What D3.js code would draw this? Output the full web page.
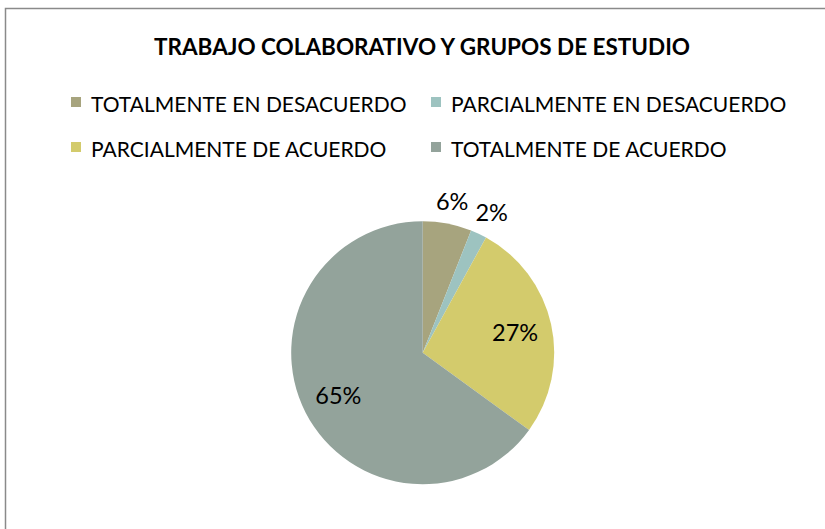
<!DOCTYPE html>
<html>
<head>
<meta charset="utf-8">
<script src="https://cdn.jsdelivr.net/npm/d3@7"></script>
<style>
  body { margin: 0; background: #fff; }
  svg { display: block; }
</style>
</head>
<body>
<div id="chart"></div>
<script>
// datos
var categorias = ["TOTALMENTE EN DESACUERDO", "PARCIALMENTE EN DESACUERDO", "PARCIALMENTE DE ACUERDO", "TOTALMENTE DE ACUERDO"];
var valores = [6, 2, 27, 65];
var colores = ["#a7a47e", "#9dc3c0", "#d3cb6c", "#93a39b"];
var titulo = "TRABAJO COLABORATIVO Y GRUPOS DE ESTUDIO";

var width = 825;
var height = 529;
var fuente = "Lato, 'Open Sans', sans-serif";

var svg = d3.select("#chart")
    .append("svg")
    .attr("width", width)
    .attr("height", height);

// marco del grafico
svg.append("rect")
    .attr("x", 5.5)
    .attr("y", 8.5)
    .attr("width", width + 20)
    .attr("height", height + 20)
    .attr("fill", "#fff")
    .attr("stroke", "#8a8a8a")
    .attr("stroke-width", 1.5);

svg.append("text")
    .attr("x", 422)
    .attr("y", 55)
    .attr("text-anchor", "middle")
    .attr("font-family", fuente)
    .attr("font-weight", "bold")
    .attr("font-size", 22.5)
    .attr("fill", "#000")
    .text(titulo);

// leyenda en dos columnas
var colx = d3.scalePoint().domain([0, 1]).range([71, 431]);
var filay = d3.scalePoint().domain([0, 1]).range([104, 149]);

var leyenda = svg.selectAll(".leyenda")
    .data(categorias)
    .enter()
    .append("g")
    .attr("class", "leyenda")
    .attr("transform", (d, i) => "translate(" + colx(i % 2) + "," + filay(Math.floor(i / 2)) + ")");

leyenda.append("rect")
    .attr("x", 0)
    .attr("y", -7)
    .attr("width", 10)
    .attr("height", 10)
    .attr("fill", (d, i) => colores[i]);

leyenda.append("text")
    .attr("x", 20)
    .attr("y", 7.5)
    .attr("font-family", fuente)
    .attr("font-size", 21)
    .attr("fill", "#000")
    .text(d => d);

// tarta
var cx = 422.7, cy = 352.7, r = 131.5;

var pie = d3.pie().sort(null).value(d => d);
var arcos = pie(valores);

var arc = d3.arc().innerRadius(0).outerRadius(r);
var arcDentro = d3.arc().innerRadius(r * 0.72).outerRadius(r * 0.72);
var arcFuera = d3.arc().innerRadius(r + 22).outerRadius(r + 22);

var g = svg.append("g").attr("transform", "translate(" + cx + "," + cy + ")");

g.selectAll("path")
    .data(arcos)
    .enter()
    .append("path")
    .attr("d", arc)
    .attr("fill", (d, i) => colores[i]);

var total = d3.sum(valores);
g.selectAll(".etiqueta")
    .data(arcos)
    .enter()
    .append("text")
    .attr("class", "etiqueta")
    .attr("transform", d => {
        var fuera = d.data / total < 0.1;
        var p = (fuera ? arcFuera : arcDentro).centroid(d);
        // las etiquetas de fuera se separan un poco mas cuanto mas giradas estan
        if (fuera) {
            var a = (d.startAngle + d.endAngle) / 2;
            p[0] += 20 * Math.sin(a) * Math.sin(a);
            p[1] -= 4 * Math.sin(a);
        }
        return "translate(" + p[0] + "," + p[1] + ")";
    })
    .attr("text-anchor", "middle")
    .attr("dy", "0.36em")
    .attr("font-family", fuente)
    .attr("font-size", 23.5)
    .attr("fill", "#000")
    .text(d => d3.format(".0f")(d.data / total * 100) + "%");
</script>
</body>
</html>
